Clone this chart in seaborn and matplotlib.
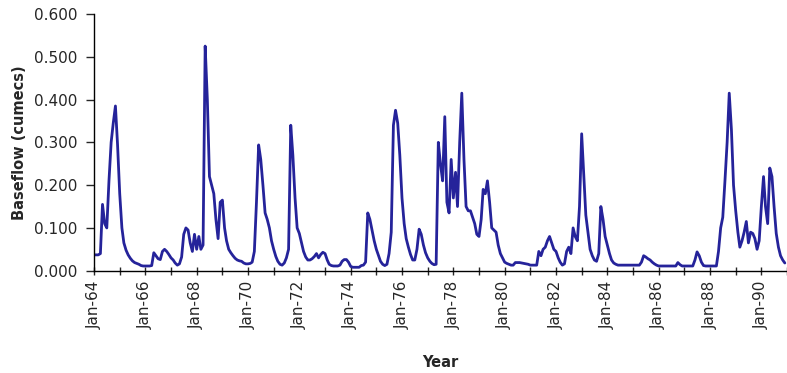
import numpy as np
import pandas as pd
import matplotlib
matplotlib.use("Agg")
import matplotlib.pyplot as plt
import matplotlib.dates as mdates
from matplotlib.ticker import FormatStrFormatter, FuncFormatter
import seaborn as sns

# Monthly baseflow (cumecs), Jan..Dec of each year
y1964 = [0.037, 0.037, 0.037, 0.040, 0.155, 0.110, 0.100, 0.210, 0.300, 0.345, 0.385, 0.295]
y1965 = [0.180, 0.100, 0.065, 0.048, 0.037, 0.029, 0.023, 0.019, 0.017, 0.015, 0.012, 0.011]
y1966 = [0.011, 0.011, 0.011, 0.012, 0.042, 0.035, 0.028, 0.026, 0.045, 0.050, 0.045, 0.038]
y1967 = [0.030, 0.025, 0.018, 0.013, 0.016, 0.032, 0.085, 0.100, 0.095, 0.065, 0.045, 0.085]
y1968 = [0.050, 0.080, 0.050, 0.060, 0.525, 0.400, 0.220, 0.200, 0.180, 0.120, 0.075, 0.160]
y1969 = [0.165, 0.100, 0.070, 0.050, 0.042, 0.035, 0.029, 0.025, 0.023, 0.022, 0.018, 0.016]
y1970 = [0.016, 0.017, 0.020, 0.045, 0.160, 0.294, 0.260, 0.200, 0.135, 0.120, 0.100, 0.070]
y1971 = [0.050, 0.033, 0.022, 0.015, 0.013, 0.018, 0.030, 0.050, 0.340, 0.270, 0.170, 0.100]
y1972 = [0.087, 0.065, 0.045, 0.032, 0.025, 0.025, 0.028, 0.033, 0.040, 0.030, 0.038, 0.043]
y1973 = [0.040, 0.025, 0.015, 0.012, 0.011, 0.011, 0.011, 0.013, 0.022, 0.026, 0.026, 0.020]
y1974 = [0.010, 0.008, 0.008, 0.008, 0.008, 0.012, 0.013, 0.020, 0.135, 0.120, 0.095, 0.070]
y1975 = [0.050, 0.035, 0.022, 0.015, 0.012, 0.015, 0.040, 0.090, 0.340, 0.375, 0.345, 0.270]
y1976 = [0.170, 0.110, 0.075, 0.055, 0.038, 0.025, 0.025, 0.050, 0.097, 0.085, 0.060, 0.042]
y1977 = [0.030, 0.022, 0.017, 0.014, 0.015, 0.300, 0.250, 0.210, 0.360, 0.160, 0.135, 0.260]
y1978 = [0.170, 0.230, 0.150, 0.300, 0.415, 0.260, 0.150, 0.140, 0.140, 0.125, 0.110, 0.085]
y1979 = [0.080, 0.120, 0.190, 0.180, 0.210, 0.160, 0.100, 0.095, 0.090, 0.060, 0.040, 0.030]
y1980 = [0.020, 0.017, 0.015, 0.013, 0.013, 0.019, 0.019, 0.019, 0.018, 0.017, 0.016, 0.015]
y1981 = [0.013, 0.013, 0.013, 0.013, 0.045, 0.035, 0.050, 0.055, 0.070, 0.080, 0.065, 0.050]
y1982 = [0.045, 0.030, 0.020, 0.013, 0.016, 0.045, 0.055, 0.040, 0.100, 0.080, 0.070, 0.150]
y1983 = [0.320, 0.220, 0.130, 0.090, 0.050, 0.035, 0.025, 0.022, 0.040, 0.150, 0.120, 0.080]
y1984 = [0.060, 0.040, 0.025, 0.018, 0.015, 0.013, 0.013, 0.013, 0.013, 0.013, 0.013, 0.013]
y1985 = [0.013, 0.013, 0.013, 0.013, 0.020, 0.035, 0.032, 0.028, 0.025, 0.020, 0.016, 0.013]
y1986 = [0.011, 0.011, 0.011, 0.011, 0.011, 0.011, 0.011, 0.011, 0.011, 0.019, 0.014, 0.011]
y1987 = [0.011, 0.011, 0.011, 0.011, 0.011, 0.025, 0.044, 0.035, 0.020, 0.012, 0.011, 0.011]
y1988 = [0.011, 0.011, 0.011, 0.011, 0.045, 0.100, 0.125, 0.210, 0.300, 0.415, 0.330, 0.200]
y1989 = [0.140, 0.090, 0.055, 0.070, 0.090, 0.115, 0.065, 0.090, 0.087, 0.075, 0.050, 0.070]
y1990 = [0.150, 0.220, 0.150, 0.110, 0.240, 0.220, 0.150, 0.087, 0.055, 0.035, 0.025, 0.018]

y_ticks = [0.0, 0.1, 0.2, 0.3, 0.4, 0.5, 0.6]
x_label = "Year"
y_label = "Baseflow (cumecs)"

values = np.concatenate([y1964, y1965, y1966, y1967, y1968, y1969, y1970, y1971,
                         y1972, y1973, y1974, y1975, y1976, y1977, y1978, y1979,
                         y1980, y1981, y1982, y1983, y1984, y1985, y1986, y1987,
                         y1988, y1989, y1990])
dates = pd.date_range("1964-01-01", periods=len(values), freq="MS")
df = pd.DataFrame({"date": dates, "baseflow": values})

sns.set_style("ticks")
plt.rcParams["font.family"] = ["DejaVu Sans"]

W, H = 787, 373
fig = plt.figure(figsize=(W / 100, H / 100), dpi=100)
ax = fig.add_axes([94 / W, (H - 270.7) / H, (W - 94) / W, (270.7 - 14) / H])

sns.lineplot(data=df, x="date", y="baseflow", ax=ax, color="#25239a", lw=2.0)

ax.set_xlim(pd.Timestamp("1964-01-01"), pd.Timestamp("1991-01-01"))
ax.set_ylim(0, 0.6)
ax.set_yticks(y_ticks)
ax.yaxis.set_major_formatter(FormatStrFormatter("%.3f"))

ax.xaxis.set_major_locator(mdates.YearLocator(1))


def fmt(x, pos):
    d = mdates.num2date(x)
    return d.strftime("Jan-%y") if d.year % 2 == 0 else ""


ax.xaxis.set_major_formatter(FuncFormatter(fmt))

ax.tick_params(axis="x", direction="inout", length=6, width=1, pad=4, labelsize=11, rotation=90)
ax.tick_params(axis="y", direction="out", length=6, width=1, pad=6, labelsize=11)

for s in ["top", "right"]:
    ax.spines[s].set_visible(False)
for s in ["left", "bottom"]:
    ax.spines[s].set_color("black")
    ax.spines[s].set_linewidth(1.0)

ax.set_xlabel(x_label, fontweight="bold", fontsize=10.5, labelpad=19)
ax.set_ylabel(y_label, fontweight="bold", fontsize=10.5, labelpad=5)

fig.savefig("out.png", dpi=100)
